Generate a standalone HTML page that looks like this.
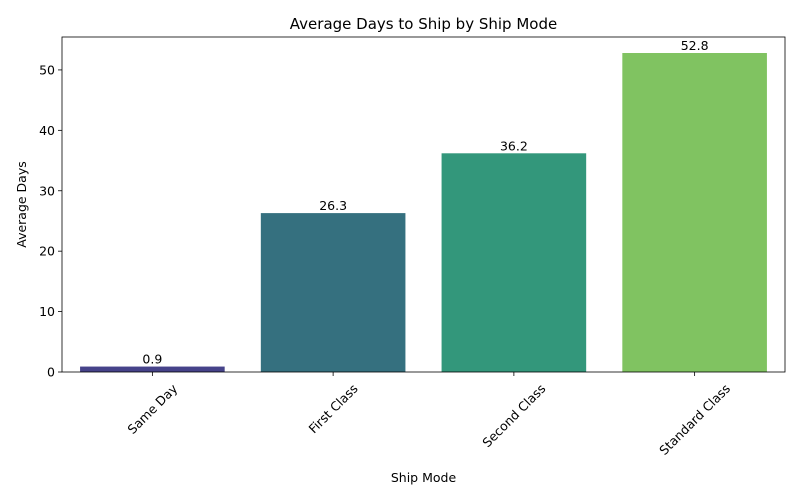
<!DOCTYPE html>
<html>
<head>
<meta charset="utf-8">
<style>
  html,body{margin:0;padding:0;background:#fff;}
  svg{display:block;font-family:"DejaVu Sans","Liberation Sans",sans-serif;}
</style>
</head>
<body>
<svg id="chart" width="800" height="500" viewBox="0 0 800 500"></svg>
<script>
const categories = ["Same Day", "First Class", "Second Class", "Standard Class"];
const values = [0.9, 26.3, 36.2, 52.8];
const valueLabels = ["0.9", "26.3", "36.2", "52.8"];
const yTicks = [0, 10, 20, 30, 40, 50];
const barColors = ["#46438a", "#35707f", "#33977b", "#80c361"];

const svg = document.getElementById('chart');
const NS = 'http://www.w3.org/2000/svg';
const L = 62, R = 785, T = 37, B = 372;
const yMax = 55.45;
function yScale(v){ return B - (v / yMax) * (B - T); }
const band = (R - L) / categories.length;
function xCenter(i){ return L + band * (i + 0.5); }
const barW = band * 0.8;

function mk(tag, attrs, text){
  const e = document.createElementNS(NS, tag);
  for (const k in attrs) e.setAttribute(k, attrs[k]);
  if (text !== undefined) e.textContent = text;
  svg.appendChild(e);
  return e;
}

categories.forEach((c, i) => {
  const y = yScale(values[i]);
  const r = mk('rect', {x: xCenter(i) - barW/2, y: y, width: barW, height: B - y, fill: barColors[i]});
  
  
  const t = mk('text', {x: xCenter(i), y: y - 3, 'text-anchor': 'middle', 'font-size': 12.5, fill: '#000'}, valueLabels[i]);
  
  
  const tk = mk('line', {x1: xCenter(i), x2: xCenter(i), y1: B, y2: B + 4, stroke: '#000', 'stroke-width': 0.8});
  
  
  const xl = mk('text', {x: 0, y: 4.5, 'text-anchor': 'middle', 'font-size': 12.5, fill: '#000'}, c);
  
  
  const w = xl.getComputedTextLength();
  const boxH = (w + 12) * 0.7071;
  xl.setAttribute('transform', `translate(${xCenter(i)},${B + 10 + boxH/2}) rotate(-45)`);
});

yTicks.forEach(v => {
  const y = yScale(v);
  const tk = mk('line', {x1: L - 4, x2: L, y1: y, y2: y, stroke: '#000', 'stroke-width': 0.8});
  
  
  const tl = mk('text', {x: L - 7, y: y + 4.5, 'text-anchor': 'end', 'font-size': 12.5, fill: '#000'}, String(v));
  
  
});

const fr = mk('rect', {x: L, y: T, width: R - L, height: B - T, fill: 'none', stroke: '#000', 'stroke-width': 0.8});



const title = mk('text', {x: (L + R)/2, y: 29, 'text-anchor': 'middle', 'font-size': 15, fill: '#000'}, 'Average Days to Ship by Ship Mode');


const xt = mk('text', {x: (L + R)/2, y: 482, 'text-anchor': 'middle', 'font-size': 12.5, fill: '#000'}, 'Ship Mode');


const yt = mk('text', {x: 0, y: 0, 'text-anchor': 'middle', 'font-size': 12.5, fill: '#000',
  transform: `translate(26,${(T + B)/2}) rotate(-90)`}, 'Average Days');


</script>
</body>
</html>
